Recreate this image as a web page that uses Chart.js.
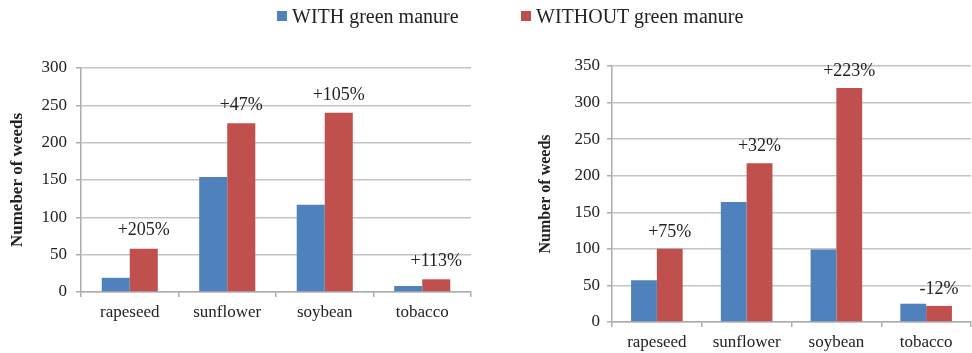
<!DOCTYPE html>
<html>
<head>
<meta charset="utf-8">
<script src="https://cdn.jsdelivr.net/npm/chart.js@4"></script>
<style>
  html, body { margin: 0; padding: 0; background: #fff; }
  #wrap { position: relative; width: 972px; height: 353px; overflow: hidden; }
  canvas { position: absolute; top: 0; }
  #cLeft { left: 0; }
  #cRight { left: 486px; }
  .leg { position: absolute; top: 6px; height: 20px; line-height: 20px;
         font-family: "Liberation Serif", "Times New Roman", serif; font-size: 20px; color: #222; white-space: nowrap; }
  .leg span.sw { position: absolute; top: 5px; width: 10px; height: 10px; }
  .leg span.tx { position: absolute; left: 15px; top: 0; }
</style>
</head>
<body>
<div id="wrap">
  <canvas id="cLeft" width="486" height="353"></canvas>
  <canvas id="cRight" width="486" height="353"></canvas>
  <div class="leg" style="left:277px;"><span class="sw" style="background:#4F81BD"></span><span class="tx">WITH green manure</span></div>
  <div class="leg" style="left:521px;"><span class="sw" style="background:#C0504D"></span><span class="tx">WITHOUT green manure</span></div>
</div>
<script>
// Crops (shared by both panels)
const crops = ['rapeseed', 'sunflower', 'soybean', 'tobacco'];
const seriesNames = ['WITH green manure', 'WITHOUT green manure'];

// Left panel: weed counts
const leftWith = [19, 154, 117, 8];
const leftWithout = [58, 226, 240, 17];
const leftChange = ['+205%', '+47%', '+105%', '+113%'];

// Right panel: weed counts
const rightWith = [57, 164, 99, 25];
const rightWithout = [100, 217, 320, 22];
const rightChange = ['+75%', '+32%', '+223%', '-12%'];

const BLUE = '#4F81BD';
const RED = '#C0504D';
const SERIF = "'Liberation Serif', 'Times New Roman', serif";

Chart.defaults.font.family = SERIF;
Chart.defaults.color = '#222';

// Writes the percentage change above each "WITHOUT" bar
const changeLabels = {
  id: 'changeLabels',
  afterDatasetsDraw(chart, args, opts) {
    const meta = chart.getDatasetMeta(1);
    const ctx = chart.ctx;
    ctx.save();
    ctx.font = '18px ' + SERIF;
    ctx.fillStyle = '#222';
    ctx.textAlign = 'center';
    ctx.textBaseline = 'middle';
    meta.data.forEach((bar, i) => {
      ctx.fillText(opts.texts[i], bar.x, bar.y - opts.gap);
    });
    ctx.restore();
  }
};

function makeChart(id, withVals, withoutVals, changes, cfg) {
  return new Chart(document.getElementById(id), {
    type: 'bar',
    data: {
      labels: crops,
      datasets: [
        { label: seriesNames[0], data: withVals, backgroundColor: BLUE, borderWidth: 0,
          categoryPercentage: 0.575, barPercentage: 1 },
        { label: seriesNames[1], data: withoutVals, backgroundColor: RED, borderWidth: 0,
          categoryPercentage: 0.575, barPercentage: 1 }
      ]
    },
    options: {
      responsive: false,
      animation: false,
      devicePixelRatio: 1,
      layout: { padding: cfg.padding },
      plugins: {
        legend: { display: false },
        tooltip: { enabled: false },
        changeLabels: { texts: changes, gap: cfg.labelGap }
      },
      scales: {
        x: {
          grid: { display: true, drawOnChartArea: false, drawTicks: true, tickLength: 5,
                  color: '#acacac', lineWidth: 1.5, offset: true },
          border: { color: '#acacac', width: 1.5 },
          ticks: { color: '#222', padding: 5, font: { family: SERIF, size: 17 } },
          afterFit(scale) { scale.height = cfg.xHeight; }
        },
        y: {
          min: 0,
          max: cfg.yMax,
          ticks: { stepSize: 50, color: '#222', padding: cfg.tickPad, font: { family: SERIF, size: 17 } },
          grid: { color: '#c4c4c4', lineWidth: 1.5, tickLength: 5, tickColor: '#acacac' },
          border: { color: '#acacac', width: 1.5 },
          title: {
            display: true,
            text: cfg.yTitle,
            color: '#222',
            font: { family: SERIF, size: cfg.titleSize, weight: 'bold' },
            padding: { top: cfg.titlePad, bottom: 0 }
          },
          afterFit(scale) { scale.width = cfg.yWidth; }
        }
      }
    },
    plugins: [changeLabels]
  });
}

makeChart('cLeft', leftWith, leftWithout, leftChange, {
  padding: { top: 68, right: 15, bottom: 0, left: 0 },
  xHeight: 61, yWidth: 81, yMax: 300, tickPad: 9,
  yTitle: 'Numeber of weeds', titleSize: 17, titlePad: 7, labelGap: 18
});

makeChart('cRight', rightWith, rightWithout, rightChange, {
  padding: { top: 66, right: 1, bottom: 0, left: 0 },
  xHeight: 31, yWidth: 126, yMax: 350, tickPad: 7,
  yTitle: 'Number of weeds', titleSize: 16, titlePad: 50, labelGap: 17
});
</script>
</body>
</html>
